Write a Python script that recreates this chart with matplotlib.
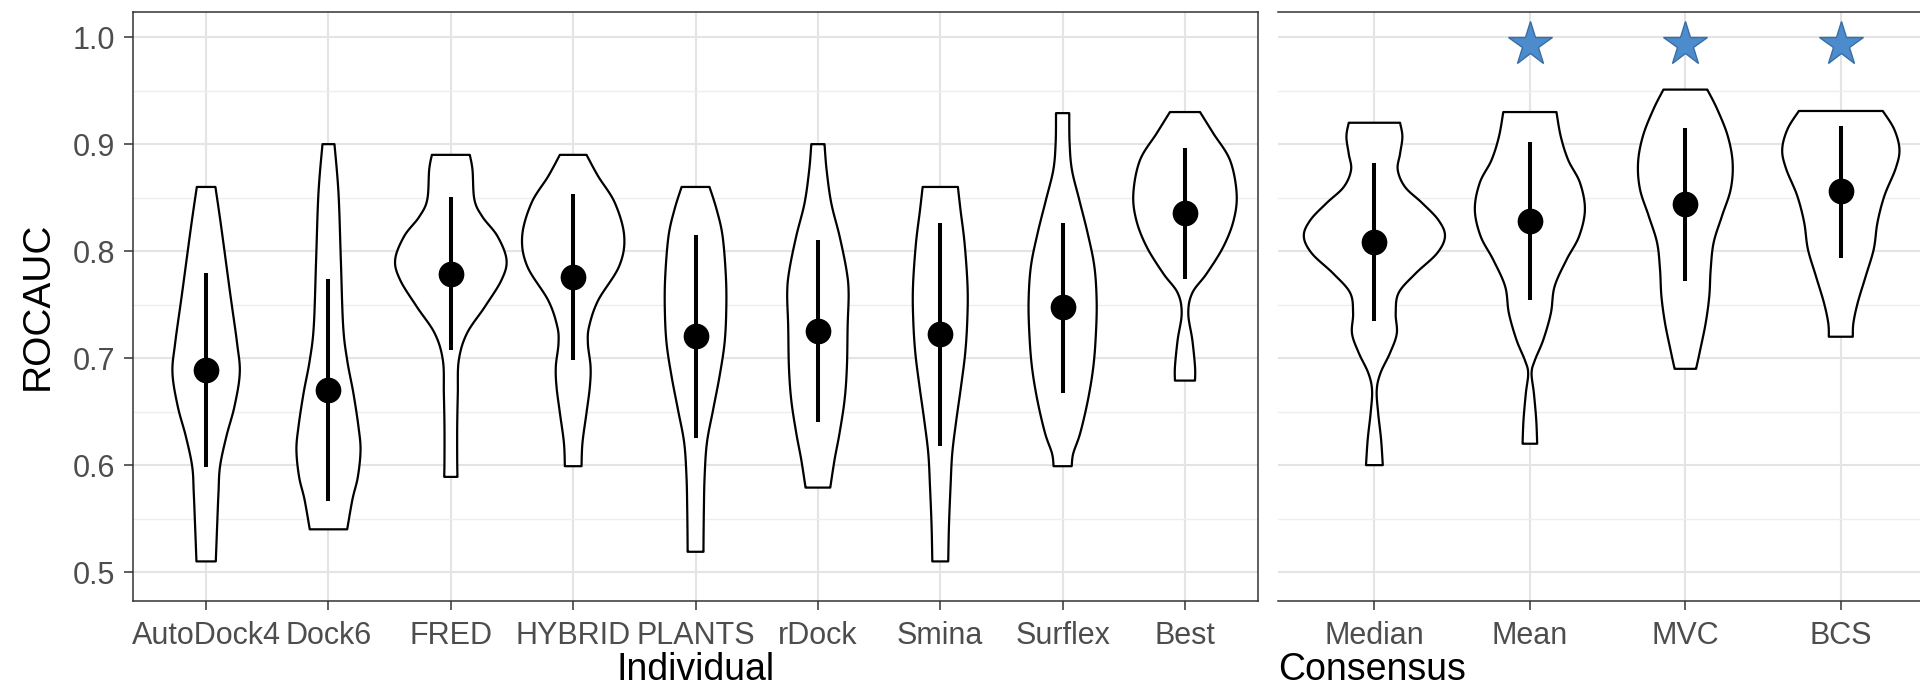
import matplotlib
matplotlib.use("Agg")
import matplotlib.pyplot as plt
from matplotlib.ticker import MultipleLocator
import numpy as np

plt.rcParams['font.family'] = ['Liberation Sans', 'DejaVu Sans']

# ---------------- data ----------------
individual = ["AutoDock4", "Dock6", "FRED", "HYBRID", "PLANTS", "rDock", "Smina", "Surflex", "Best"]
consensus = ["Median", "Mean", "MVC", "BCS"]

# violin outlines: ROCAUC levels and half-widths (category units)
autodock4_y = [0.510, 0.543, 0.574, 0.599, 0.627, 0.655, 0.686, 0.714, 0.761, 0.823, 0.860]
autodock4_w = [0.079, 0.090, 0.101, 0.114, 0.166, 0.232, 0.275, 0.253, 0.196, 0.123, 0.076]
dock6_y = [0.540, 0.568, 0.589, 0.614, 0.636, 0.667, 0.698, 0.730, 0.792, 0.854, 0.900]
dock6_w = [0.153, 0.196, 0.240, 0.262, 0.245, 0.204, 0.153, 0.120, 0.101, 0.082, 0.049]
fred_y = [0.589, 0.605, 0.636, 0.667, 0.698, 0.723, 0.748, 0.773, 0.792, 0.814, 0.832, 0.848, 0.876, 0.890]
fred_w = [0.054, 0.052, 0.052, 0.057, 0.065, 0.131, 0.278, 0.414, 0.455, 0.381, 0.259, 0.193, 0.177, 0.155]
hybrid_y = [0.599, 0.621, 0.649, 0.673, 0.692, 0.714, 0.730, 0.754, 0.786, 0.814, 0.845, 0.870, 0.890]
hybrid_w = [0.068, 0.076, 0.109, 0.136, 0.142, 0.120, 0.131, 0.204, 0.376, 0.417, 0.341, 0.204, 0.109]
plants_y = [0.519, 0.527, 0.558, 0.589, 0.621, 0.652, 0.683, 0.714, 0.745, 0.776, 0.814, 0.839, 0.860]
plants_w = [0.065, 0.065, 0.068, 0.074, 0.093, 0.144, 0.196, 0.237, 0.251, 0.248, 0.221, 0.172, 0.114]
rdock_y = [0.579, 0.605, 0.630, 0.661, 0.692, 0.730, 0.761, 0.782, 0.814, 0.845, 0.876, 0.900]
rdock_w = [0.101, 0.136, 0.177, 0.218, 0.237, 0.243, 0.251, 0.234, 0.177, 0.109, 0.071, 0.054]
smina_y = [0.510, 0.543, 0.580, 0.611, 0.642, 0.673, 0.705, 0.736, 0.767, 0.807, 0.838, 0.860]
smina_w = [0.065, 0.071, 0.084, 0.098, 0.131, 0.169, 0.204, 0.221, 0.223, 0.199, 0.166, 0.144]
surflex_y = [0.599, 0.611, 0.630, 0.661, 0.692, 0.723, 0.754, 0.786, 0.817, 0.848, 0.876, 0.901, 0.929]
surflex_w = [0.074, 0.087, 0.144, 0.207, 0.251, 0.272, 0.278, 0.259, 0.204, 0.136, 0.076, 0.057, 0.054]
best_y = [0.679, 0.692, 0.717, 0.742, 0.761, 0.779, 0.804, 0.829, 0.854, 0.885, 0.910, 0.930]
best_w = [0.082, 0.082, 0.060, 0.027, 0.060, 0.177, 0.313, 0.398, 0.422, 0.368, 0.232, 0.123]

median_y = [0.600, 0.624, 0.649, 0.670, 0.686, 0.705, 0.723, 0.742, 0.761, 0.779, 0.798, 0.814,
            0.829, 0.845, 0.860, 0.876, 0.891, 0.907, 0.920]
median_w = [0.054, 0.043, 0.024, 0.015, 0.039, 0.101, 0.144, 0.137, 0.156, 0.264, 0.403, 0.454,
            0.412, 0.307, 0.197, 0.150, 0.165, 0.180, 0.165]
mean_y = [0.620, 0.642, 0.667, 0.686, 0.698, 0.717, 0.742, 0.767, 0.792, 0.814, 0.839, 0.864,
          0.885, 0.907, 0.930]
mean_w = [0.047, 0.041, 0.026, 0.011, 0.032, 0.086, 0.135, 0.159, 0.236, 0.317, 0.354, 0.322,
          0.247, 0.199, 0.171]
mvc_y = [0.690, 0.708, 0.733, 0.758, 0.783, 0.808, 0.833, 0.858, 0.883, 0.908, 0.933, 0.951]
mvc_w = [0.069, 0.096, 0.131, 0.154, 0.163, 0.182, 0.236, 0.292, 0.304, 0.272, 0.204, 0.141]
bcs_y = [0.720, 0.733, 0.752, 0.777, 0.802, 0.827, 0.852, 0.877, 0.895, 0.914, 0.931]
bcs_w = [0.077, 0.081, 0.109, 0.161, 0.212, 0.236, 0.281, 0.352, 0.377, 0.343, 0.270]

# point = mean, line = mean +/- sd
individual_mean = [0.689, 0.670, 0.779, 0.776, 0.721, 0.725, 0.723, 0.748, 0.836]
individual_lo = [0.598, 0.566, 0.708, 0.698, 0.625, 0.640, 0.618, 0.667, 0.774]
individual_hi = [0.780, 0.774, 0.851, 0.853, 0.815, 0.810, 0.826, 0.826, 0.896]
consensus_mean = [0.809, 0.828, 0.844, 0.856]
consensus_lo = [0.735, 0.754, 0.772, 0.794]
consensus_hi = [0.882, 0.902, 0.915, 0.917]

starred = ["Mean", "MVC", "BCS"]
star_level = 0.994

individual_shapes = [(autodock4_y, autodock4_w), (dock6_y, dock6_w), (fred_y, fred_w),
                     (hybrid_y, hybrid_w), (plants_y, plants_w), (rdock_y, rdock_w),
                     (smina_y, smina_w), (surflex_y, surflex_w), (best_y, best_w)]
consensus_shapes = [(median_y, median_w), (mean_y, mean_w), (mvc_y, mvc_w), (bcs_y, bcs_w)]

# ---------------- figure ----------------
W, H = 1920, 689
fig = plt.figure(figsize=(W / 100, H / 100), dpi=100)

ybot_px, ytop_px = 601, 11.7
ax_b = (H - ybot_px) / H
ax_h = (ybot_px - ytop_px) / H
ax1 = fig.add_axes([132.7 / W, ax_b, (1258.4 - 132.7) / W, ax_h])
ax2 = fig.add_axes([1278 / W, ax_b, (1931 - 1278) / W, ax_h])

ylo, yhi = 0.473, 1.0238
spine_col = '#333333'
tick_col = '#4d4d4d'


def style(ax, cats, xlim, left_labels):
    ax.set_xlim(*xlim)
    ax.set_ylim(ylo, yhi)
    ax.set_xticks(range(len(cats)))
    ax.set_xticklabels(cats, fontsize=22, color=tick_col)
    ax.yaxis.set_major_locator(MultipleLocator(0.1))
    ax.yaxis.set_minor_locator(MultipleLocator(0.05))
    ax.grid(which='major', axis='both', color='#e4e4e4', lw=1.5, zorder=0)
    ax.grid(which='minor', axis='y', color='#eeeeee', lw=1.0, zorder=0)
    ax.set_axisbelow(True)
    ax.tick_params(axis='x', which='major', length=6.5, width=1.1, color=spine_col, pad=8)
    ax.tick_params(axis='both', which='minor', length=0)
    if left_labels:
        ax.tick_params(axis='y', which='major', length=6.5, width=1.1, color=spine_col,
                       pad=6, labelsize=22, labelcolor=tick_col)
        ax.set_yticklabels([f"{v:.1f}" for v in ax.get_yticks()])
    else:
        ax.tick_params(axis='y', which='both', length=0, labelleft=False)
    for s in ax.spines.values():
        s.set_color(spine_col)
        s.set_linewidth(1.1)


def smooth_side(ws, ys, n=12):
    """Catmull-Rom curve through the read outline points (rendering only)."""
    p = np.column_stack([ws, ys])
    p = np.vstack([p[0], p, p[-1]])
    out = []
    t = np.linspace(0, 1, n, endpoint=False)[:, None]
    for k in range(1, len(p) - 2):
        p0, p1, p2, p3 = p[k - 1], p[k], p[k + 1], p[k + 2]
        seg = 0.5 * ((2 * p1) + (-p0 + p2) * t + (2 * p0 - 5 * p1 + 4 * p2 - p3) * t ** 2
                     + (-p0 + 3 * p1 - 3 * p2 + p3) * t ** 3)
        out.append(seg)
    out.append(p[-2][None, :])
    c = np.vstack(out)
    return np.clip(c[:, 0], 0.004, None), c[:, 1]


def draw(ax, shapes, means, los, his):
    for i, (ys, ws) in enumerate(shapes):
        sw, sy = smooth_side(np.asarray(ws), np.asarray(ys))
        xs = np.concatenate([i + sw, (i - sw)[::-1]])
        yy = np.concatenate([sy, sy[::-1]])
        ax.fill(xs, yy, facecolor='white', edgecolor='black', lw=1.6, joinstyle='round', zorder=2)
        ax.plot([i, i], [los[i], his[i]], color='black', lw=2.9, solid_capstyle='butt', zorder=3)
        ax.plot([i], [means[i]], 'o', color='black', markersize=17.5, zorder=4)


style(ax1, individual, (-0.6, 8.6), True)
style(ax2, consensus, (-0.62, 3.58), False)
ax2.spines['left'].set_visible(False)
ax2.spines['right'].set_visible(False)

draw(ax1, individual_shapes, individual_mean, individual_lo, individual_hi)
draw(ax2, consensus_shapes, consensus_mean, consensus_lo, consensus_hi)

for name in starred:
    i = consensus.index(name)
    ax2.plot([i], [star_level], marker='*', markersize=33, markerfacecolor='#4d8ccc',
             markeredgecolor='#3a6da3', markeredgewidth=1.0, zorder=5, clip_on=False)

# axis titles
fig.text(695.5 / W, (H - 680) / H, "Individual", fontsize=27, ha='center', va='baseline')
fig.text(1278 / W, (H - 680) / H, "Consensus", fontsize=27, ha='left', va='baseline')
fig.text(38 / W, (H - 306) / H, "ROCAUC", fontsize=28, rotation=90, ha='center', va='center')

fig.savefig("out.png", dpi=100, facecolor='white')
